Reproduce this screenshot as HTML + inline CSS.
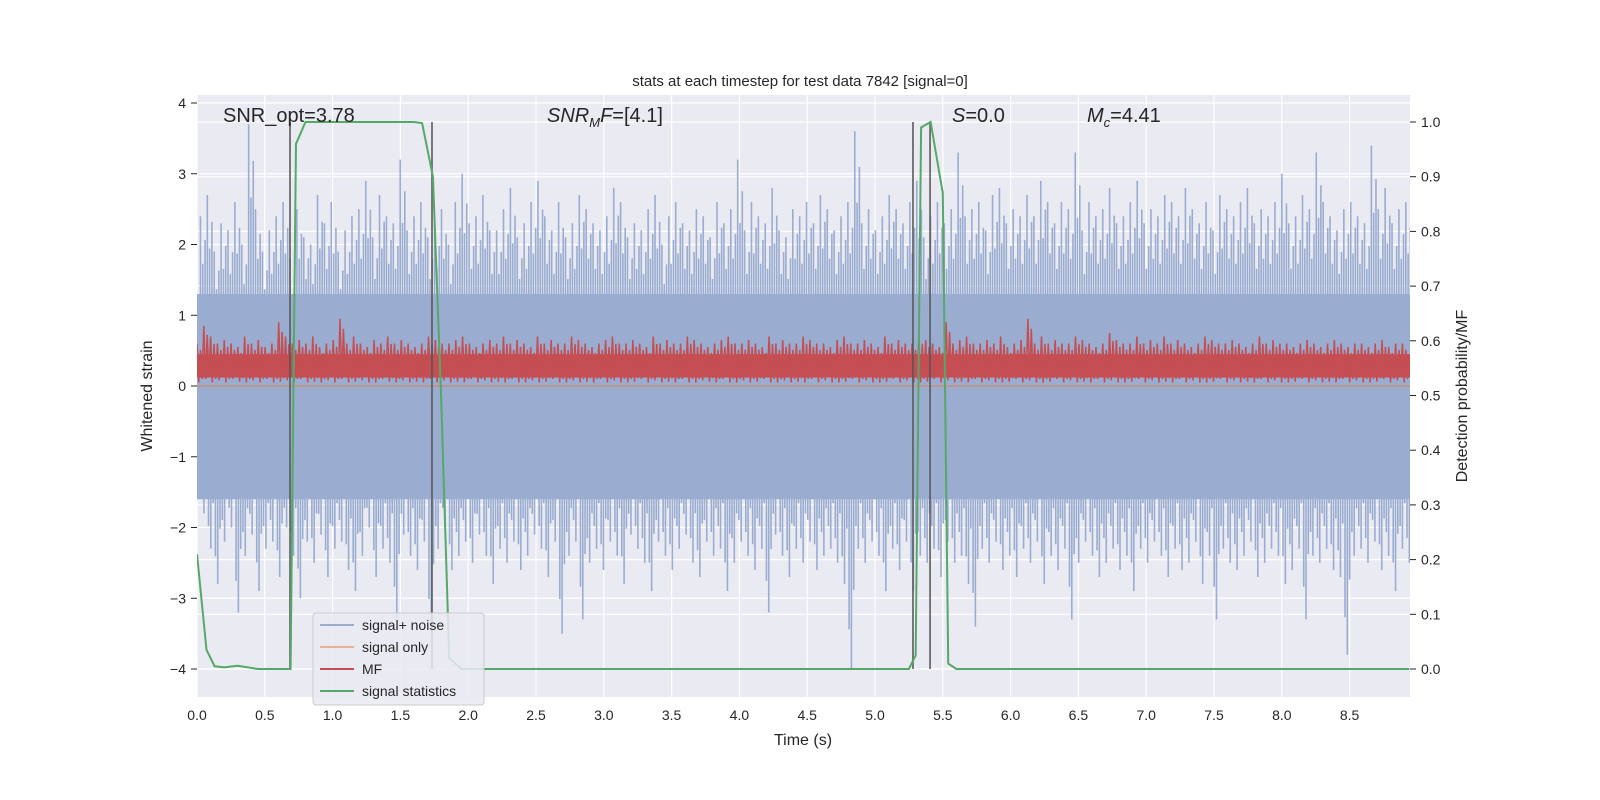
<!DOCTYPE html>
<html><head><meta charset="utf-8"><style>
body{margin:0;background:#fff;}
svg{display:block;font-family:"Liberation Sans","DejaVu Sans",sans-serif;}
</style></head><body>
<svg id="chart" width="1600" height="800">
<defs><clipPath id="plotclip"><rect x="197" y="95" width="1213" height="602"/></clipPath></defs>
<rect x="0" y="0" width="1600" height="800" fill="#fff"/>
<rect x="197" y="95" width="1213" height="602" fill="#eaeaf2"/>
<g id="grid"></g>
<g id="blue" clip-path="url(#plotclip)"></g>
<g id="red" clip-path="url(#plotclip)"></g>
<line x1="197" y1="386" x2="1410" y2="386" stroke="#dd8452" stroke-width="1.5" opacity="0.7"/>
<g id="vlines"></g>
<g id="green" clip-path="url(#plotclip)"></g>
<g id="axes"></g>
<text x="800" y="86" font-size="15" text-anchor="middle" fill="#262626">stats at each timestep for test data 7842 [signal=0]</text>
<text x="223" y="122" font-size="20" fill="#262626">SNR_opt=3.78</text>
<text x="547" y="122" font-size="20" fill="#262626"><tspan font-style="italic">SNR</tspan><tspan font-style="italic" font-size="13" dy="5">M</tspan><tspan font-style="italic" dy="-5">F</tspan>=[4.1]</text>
<text x="952" y="122" font-size="20" fill="#262626"><tspan font-style="italic">S</tspan>=0.0</text>
<text x="1087" y="122" font-size="20" fill="#262626"><tspan font-style="italic">M</tspan><tspan font-style="italic" font-size="13" dy="5">c</tspan><tspan dy="-5">=4.41</tspan></text>
<text x="803" y="745" font-size="16" text-anchor="middle" fill="#262626">Time (s)</text>
<text transform="translate(152,396) rotate(-90)" font-size="16" text-anchor="middle" fill="#262626">Whitened strain</text>
<text transform="translate(1467,396) rotate(-90)" font-size="16" text-anchor="middle" fill="#262626">Detection probability/MF</text>
<g>
<rect x="313" y="613" width="171" height="92" rx="3" fill="#eaeaf2" fill-opacity="0.85" stroke="#cccccc"/>
<line x1="320" y1="625" x2="354" y2="625" stroke="#9aadd0" stroke-width="2"/>
<text x="362" y="630" font-size="14" fill="#262626">signal+ noise</text>
<line x1="320" y1="647" x2="354" y2="647" stroke="#eab097" stroke-width="2"/>
<text x="362" y="652" font-size="14" fill="#262626">signal only</text>
<line x1="320" y1="669" x2="354" y2="669" stroke="#c44e52" stroke-width="2"/>
<text x="362" y="674" font-size="14" fill="#262626">MF</text>
<line x1="320" y1="691" x2="354" y2="691" stroke="#55a868" stroke-width="2"/>
<text x="362" y="696" font-size="14" fill="#262626">signal statistics</text>
</g>
</svg>
<script>
const blueUpper=[2.4,2.7,1.9,2.3,2.2,2.6,2.0,3.7,2.5,1.9,2.2,2.4,2.6,1.8,2.5,2.1,2.0,2.7,2.3,2.6,1.9,2.2,2.4,2.5,2.9,2.1,2.7,2.4,2.3,3.2,2.2,2.4,2.6,2.1,2.3,2.5,2.0,2.6,3.0,2.3,2.4,2.7,2.2,2.2,2.5,2.8,2.1,2.3,2.6,2.9,2.4,2.2,2.6,2.1,2.3,2.7,2.5,2.3,2.2,2.4,2.8,2.6,2.1,2.3,2.2,2.5,2.7,2.0,2.4,2.6,2.3,2.2,2.5,2.4,2.1,2.6,2.3,2.5,3.2,2.2,2.6,2.4,2.3,2.8,2.2,2.1,2.5,2.4,2.6,2.3,2.7,2.5,2.2,2.4,2.6,3.6,2.3,2.5,2.2,2.4,2.7,2.5,2.3,2.6,2.9,2.1,2.4,2.6,2.3,2.5,3.3,2.4,2.5,2.6,2.2,2.7,2.8,2.3,2.5,2.4,2.7,2.4,2.9,2.6,2.3,2.6,2.5,3.3,2.2,2.6,2.4,2.5,2.8,2.3,2.4,2.6,2.9,2.3,2.5,2.4,2.7,2.6,2.4,2.8,2.5,2.3,2.6,2.2,2.7,2.5,2.4,2.6,2.8,2.3,2.5,2.4,2.6,3.0,2.3,2.4,2.7,2.5,3.3,2.6,2.4,2.2,2.5,2.6,2.4,2.3,3.4,2.5,2.8,2.3,2.5,2.6];
const blueLower=[-1.8,-2.3,-2.8,-2.2,-2.0,-3.2,-2.4,-2.1,-2.9,-2.3,-2.2,-2.7,-2.0,-2.4,-3.0,-2.2,-2.5,-2.1,-2.7,-2.3,-2.2,-2.6,-2.9,-2.4,-2.0,-2.7,-2.3,-2.5,-3.3,-2.1,-2.4,-2.6,-2.2,-3.5,-2.3,-2.0,-2.6,-2.4,-2.2,-2.5,-2.1,-2.4,-2.8,-2.3,-2.5,-2.2,-2.6,-2.4,-2.1,-2.3,-2.7,-2.2,-3.5,-2.4,-2.2,-3.3,-2.5,-2.3,-2.6,-2.2,-2.4,-2.8,-2.1,-2.3,-2.5,-2.9,-2.2,-2.4,-2.6,-2.3,-2.1,-2.5,-2.7,-2.2,-2.4,-2.3,-2.9,-2.5,-2.2,-2.4,-2.6,-2.3,-3.2,-2.1,-2.4,-2.7,-2.3,-2.5,-2.2,-2.6,-2.4,-2.3,-2.5,-2.8,-4.0,-2.3,-2.5,-2.2,-2.4,-2.9,-2.3,-2.6,-2.2,-2.9,-2.4,-2.5,-2.3,-2.7,-2.2,-2.5,-2.4,-2.8,-3.4,-2.3,-2.5,-2.2,-2.6,-2.4,-2.7,-2.3,-2.5,-2.2,-2.8,-2.4,-2.6,-2.3,-3.3,-2.5,-2.2,-2.4,-2.7,-2.5,-2.3,-2.6,-2.4,-2.9,-2.3,-2.5,-2.2,-2.4,-2.7,-2.3,-2.6,-2.5,-2.2,-2.8,-2.4,-3.3,-2.3,-2.5,-2.6,-2.4,-2.2,-2.7,-2.5,-2.3,-2.4,-2.8,-2.6,-2.3,-3.3,-2.4,-2.5,-2.3,-2.6,-2.7,-3.8,-2.4,-2.3,-2.5,-2.2,-2.6,-2.4,-2.9,-2.3,-2.5,-2.7,-2.4,-2.3,-2.6];
const redUpper=[0.6,0.85,0.7,0.6,0.65,0.6,0.55,0.7,0.6,0.65,0.55,0.6,0.9,0.7,0.6,0.65,0.6,0.7,0.55,0.6,0.65,0.95,0.6,0.7,0.6,0.55,0.65,0.6,0.7,0.6,0.65,0.6,0.55,0.6,0.7,0.65,0.6,0.6,0.65,0.7,0.6,0.55,0.6,0.65,0.6,0.7,0.6,0.65,0.6,0.55,0.7,0.6,0.65,0.6,0.6,0.7,0.65,0.6,0.55,0.6,0.65,0.7,0.6,0.6,0.65,0.6,0.55,0.7,0.6,0.65,0.6,0.6,0.7,0.65,0.6,0.55,0.6,0.65,0.7,0.6,0.6,0.65,0.6,0.55,0.7,0.6,0.65,0.6,0.6,0.7,0.65,0.6,0.6,0.55,0.65,0.7,0.6,0.6,0.65,0.6,0.55,0.7,0.6,0.65,0.6,0.6,0.7,0.65,0.6,0.55,0.9,0.6,0.65,0.7,0.6,0.6,0.65,0.6,0.7,0.55,0.6,0.65,0.95,0.6,0.7,0.6,0.65,0.6,0.6,0.7,0.65,0.6,0.55,0.6,0.75,0.65,0.6,0.6,0.7,0.6,0.65,0.6,0.7,0.6,0.65,0.6,0.55,0.6,0.7,0.65,0.6,0.6,0.65,0.6,0.55,0.6,0.7,0.6,0.65,0.6,0.6,0.55,0.6,0.65,0.6,0.55,0.6,0.65,0.6,0.55,0.6,0.6,0.55,0.6,0.65,0.55,0.6,0.6];
const redLower=[0.05,0.1,0.05,0.08,0.05,0.1,0.06,0.05,0.08,0.05,0.1,0.05,0.06,0.08,0.05,0.1,0.05,0.06,0.05,0.08,0.05,0.1,0.05,0.06,0.08,0.05,0.05,0.1,0.06,0.05,0.08,0.05,0.06,0.05,0.1,0.05,0.08,0.05,0.06,0.05,0.1,0.05,0.08,0.05,0.06,0.05,0.1,0.05,0.05,0.08,0.05,0.06,0.1,0.05,0.05,0.08,0.05,0.06,0.05,0.1,0.05,0.08,0.05,0.05,0.06,0.1,0.05,0.08,0.05,0.06,0.05,0.1,0.05,0.05,0.08,0.06,0.05,0.1,0.05,0.05,0.08,0.05,0.06,0.1,0.05,0.05,0.08,0.05,0.06,0.05,0.1,0.05,0.08,0.05,0.05,0.06,0.1,0.05,0.08,0.05,0.05,0.06,0.1,0.05,0.08,0.05,0.05,0.06,0.1,0.05,0.08,0.05,0.06,0.05,0.1,0.05,0.08,0.05,0.05,0.06,0.1,0.05,0.08,0.05,0.05,0.06,0.1,0.05,0.08,0.05,0.06,0.05,0.1,0.05,0.08,0.05,0.05,0.06,0.1,0.05,0.08,0.05,0.06,0.05,0.1,0.05,0.08,0.05,0.05,0.06,0.1,0.05,0.08,0.05,0.06,0.05,0.1,0.05,0.08,0.05,0.05,0.06,0.1,0.05,0.08,0.05,0.06,0.05,0.1,0.05,0.08,0.05,0.05,0.06,0.1,0.05,0.08,0.05];
const statTimes=[0,0.07,0.13,0.2,0.3,0.45,0.55,0.69,0.73,0.8,1.0,1.2,1.4,1.6,1.66,1.74,1.8,1.86,1.95,2.1,5.25,5.3,5.34,5.41,5.5,5.54,5.6,8.94];
const statValues=[0.21,0.035,0.005,0.003,0.006,0.0,0.0,0.0,0.96,1.0,1.0,1.0,1.0,1.0,0.998,0.9,0.5,0.02,0.0,0.0,0.0,0.025,0.99,1.0,0.87,0.01,0.0,0.0];
const markerTimes=[0.686,1.733,5.28,5.406];
const xTicks=[0,0.5,1,1.5,2,2.5,3,3.5,4,4.5,5,5.5,6,6.5,7,7.5,8,8.5];
const yTicks=[-4,-3,-2,-1,0,1,2,3,4];
const y2Ticks=[0,0.1,0.2,0.3,0.4,0.5,0.6,0.7,0.8,0.9,1.0];
const X=t=>197+t*135.6, YL=v=>386-v*70.75, YR=p=>669-p*547;
const NS='http://www.w3.org/2000/svg';
function mk(tag,attrs,parent){const e=document.createElementNS(NS,tag);for(const k in attrs)e.setAttribute(k,attrs[k]);parent.appendChild(e);return e;}
const grid=document.getElementById('grid'),axes=document.getElementById('axes');
xTicks.forEach(t=>{const l=mk('line',{x1:X(t),x2:X(t),y1:95,y2:697,stroke:'#fff','stroke-width':1.2},grid);


const tx=mk('text',{x:X(t),y:720,'font-size':14,'text-anchor':'middle',fill:'#262626'},axes);tx.textContent=t.toFixed(1);

});
yTicks.forEach(v=>{const l=mk('line',{x1:197,x2:1410,y1:YL(v),y2:YL(v),stroke:'#fff','stroke-width':1.2},grid);


mk('line',{x1:191,x2:197,y1:YL(v),y2:YL(v),stroke:'#262626'},axes);
const tx=mk('text',{x:186,y:YL(v)+5,'font-size':14,'text-anchor':'end',fill:'#262626'},axes);tx.textContent=v<0?'\u2212'+(-v):v;

});
y2Ticks.forEach(p=>{const l=mk('line',{x1:197,x2:1410,y1:YR(p),y2:YR(p),stroke:'#fff','stroke-width':1.2},grid);


mk('line',{x1:1410,x2:1416,y1:YR(p),y2:YR(p),stroke:'#262626'},axes);
const tx=mk('text',{x:1421,y:YR(p)+5,'font-size':14,fill:'#262626'},axes);tx.textContent=p.toFixed(1);

});
// blue noise
const blue=document.getElementById('blue');
const core=mk('rect',{x:197,y:YL(1.3),width:1213,height:YL(-1.6)-YL(1.3),fill:'#9aadd0'},blue);


const dtB=8.94/blueUpper.length;
const subF=[1,0.72,0.86],subO=[0,2.3,4.6];
blueUpper.forEach((v,i)=>{const x=X((i+0.5)*dtB);
subF.forEach((f,k)=>{const l=mk('line',{x1:x+subO[k],x2:x+subO[k],y1:YL(0),y2:YL(v*f),stroke:'#9aadd0','stroke-width':1.6},blue);

});});
blueLower.forEach((v,i)=>{const x=X((i+0.5)*dtB)+1.2;
subF.forEach((f,k)=>{const l=mk('line',{x1:x+subO[(k+1)%3],x2:x+subO[(k+1)%3],y1:YL(0),y2:YL(v*f),stroke:'#9aadd0','stroke-width':1.6},blue);

});});
// red MF
const red=document.getElementById('red');
const dtR=8.94/redUpper.length;
let d='';
redUpper.forEach((v,i)=>{const t=i*dtR;d+=(i?'L':'M')+X(t)+','+YL(v)+'L'+X(t+dtR*0.25)+','+YL(redLower[i])+'L'+X(t+dtR*0.5)+','+YL(v*0.85)+'L'+X(t+dtR*0.75)+','+YL(redLower[i]+0.05);});
const rb=mk('rect',{x:197,y:YL(0.45),width:1213,height:YL(0.12)-YL(0.45),fill:'#c44e52'},red);


const rp=mk('path',{d:d,fill:'none',stroke:'#c44e52','stroke-width':1.5},red);


// vertical markers
const vl=document.getElementById('vlines');
markerTimes.forEach(t=>{const l=mk('line',{x1:X(t),x2:X(t),y1:YR(1.0),y2:YR(0),stroke:'#555','stroke-width':1.8,opacity:0.85},vl);

});
// green stats
const g=document.getElementById('green');
const gp=mk('polyline',{points:statTimes.map((t,i)=>X(t)+','+YR(statValues[i])).join(' '),fill:'none',stroke:'#55a868','stroke-width':2},g);


</script>
</body></html>
